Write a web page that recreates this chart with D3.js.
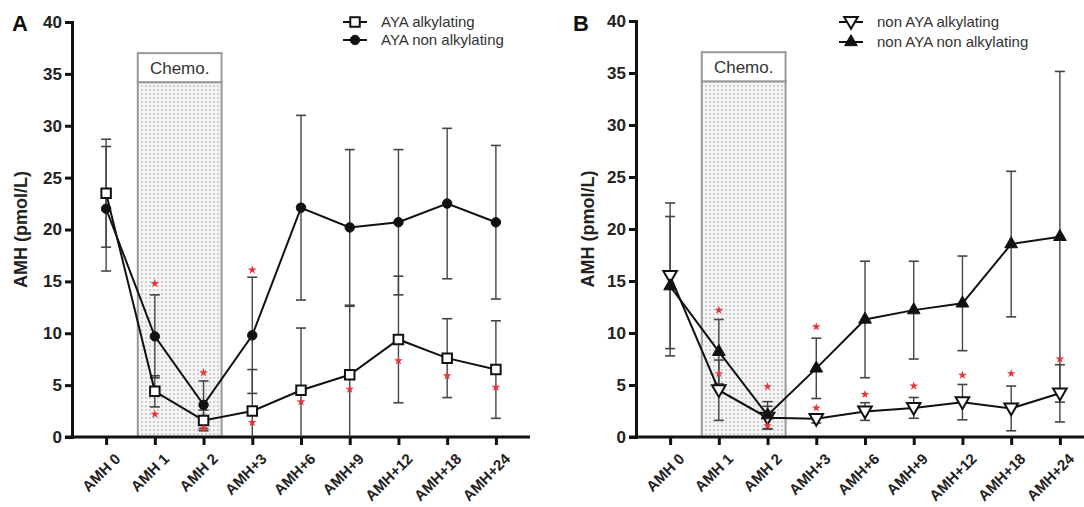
<!DOCTYPE html>
<html lang="en">
<head>
<meta charset="utf-8">
<title>AMH by group</title>
<script src="https://d3js.org/d3.v7.min.js"></script>
<style>
body { margin: 0; background: #fff; }
svg text { font-family: "Liberation Sans", Arial, sans-serif; }
</style>
</head>
<body>
<script>
// categories and ticks
const timepoints = ["AMH 0", "AMH 1", "AMH 2", "AMH+3", "AMH+6", "AMH+9", "AMH+12", "AMH+18", "AMH+24"];
const yTicks = [0, 5, 10, 15, 20, 25, 30, 35, 40];

// panel A
const ayaAlkMean = [23.5, 4.4, 1.6, 2.5, 4.5, 6.0, 9.4, 7.6, 6.5];
const ayaAlkSd   = [5.2, 1.5, 1.0, 4.0, 6.0, 6.6, 6.1, 3.8, 4.7];
const ayaNonMean = [22.0, 9.7, 3.1, 9.8, 22.1, 20.2, 20.7, 22.5, 20.7];
const ayaNonSd   = [6.0, 4.0, 2.3, 5.6, 8.9, 7.5, 7.0, 7.25, 7.4];
const starsA = [[], [14.8, 2.2], [6.2, 0.8], [16.1, 1.4], [3.4], [4.6], [7.35], [5.9], [4.8]];

// panel B
const nonAyaAlkMean = [15.5, 4.5, 1.85, 1.75, 2.45, 2.8, 3.35, 2.75, 4.2];
const nonAyaAlkSd   = [7.0, 2.9, 1.1, 0.4, 0.85, 1.0, 1.7, 2.15, 2.75];
const nonAyaNonMean = [14.5, 8.2, 2.1, 6.6, 11.3, 12.2, 12.85, 18.55, 19.25];
const nonAyaNonSd   = [6.7, 3.1, 1.3, 2.9, 5.6, 4.7, 4.55, 7.0, 15.9];
const starsB = [[], [12.2, 6.1], [4.85, 1.1], [10.6, 2.8], [4.1], [4.9], [5.95], [6.1], [7.5]];

const svg = d3.select("body").append("svg")
  .attr("width", 1084)
  .attr("height", 507);

// dotted fill for chemo box
const defs = svg.append("defs");
const pat = defs.append("pattern")
  .attr("id", "dots")
  .attr("patternUnits", "userSpaceOnUse")
  .attr("width", 4).attr("height", 4);
pat.append("rect").attr("width", 4).attr("height", 4).attr("fill", "#f5f5f5");
pat.append("circle").attr("cx", 2).attr("cy", 2).attr("r", 0.65).attr("fill", "#8a8a8a");

function markerPath(kind) {
  if (kind == "square") return d3.symbol(d3.symbolSquare, 90)();
  if (kind == "circle") return d3.symbol(d3.symbolCircle, 70)();
  if (kind == "triUp") return d3.symbol(d3.symbolTriangle, 70)();
  return d3.symbol(d3.symbolTriangle, 80)();
}

function drawMarker(g, kind, x, y) {
  const p = g.append("path")
    .attr("d", markerPath(kind))
    .attr("stroke", "#111")
    .attr("stroke-width", kind == "circle" || kind == "triUp" ? 1 : 2);
  if (kind == "triDown") {
    p.attr("transform", "translate(" + x + "," + (y - 1) + ") rotate(180)").attr("fill", "#fff");
  } else {
    p.attr("transform", "translate(" + x + "," + y + ")")
     .attr("fill", kind == "square" ? "#fff" : "#111");
  }
}

function drawPanel(opt) {
  const g = svg.append("g");

  const x = d3.scalePoint()
    .domain(timepoints)
    .range([opt.left, opt.left + 458])
    .padding(0.7);
  const y = d3.scaleLinear()
    .domain([0, 40])
    .range([437, opt.top]);
  const step = x.step();

  // chemo box
  const bx0 = x("AMH 1") - 0.35 * step;
  const bx1 = x("AMH 2") + 0.37 * step;
  g.append("rect")
    .attr("x", bx0).attr("y", y(34.2))
    .attr("width", bx1 - bx0).attr("height", y(0) - y(34.2))
    .attr("fill", "url(#dots)")
    .attr("stroke", "#999").attr("stroke-width", 2);
  g.append("rect")
    .attr("x", bx0).attr("y", y(37))
    .attr("width", bx1 - bx0).attr("height", y(34.2) - y(37))
    .attr("fill", "#fff")
    .attr("stroke", "#999").attr("stroke-width", 2);
  g.append("text")
    .attr("x", (bx0 + bx1) / 2).attr("y", (y(37) + y(34.2)) / 2 + 6)
    .attr("text-anchor", "middle")
    .attr("font-size", 17).attr("fill", "#333")
    .text("Chemo.");

  // axes
  const yAxis = g.append("g")
    .attr("transform", "translate(" + opt.left + ",0)")
    .call(d3.axisLeft(y).tickValues(yTicks).tickSize(7).tickPadding(3));
  const xAxis = g.append("g")
    .attr("transform", "translate(0," + y(0) + ")")
    .call(d3.axisBottom(x).tickSize(8).tickSizeOuter(0));
  [yAxis, xAxis].forEach(a => {
    a.select(".domain").attr("stroke", "#111").attr("stroke-width", 3);
    a.selectAll(".tick line").attr("stroke", "#111").attr("stroke-width", 3);
    a.selectAll("text").attr("font-weight", "bold").attr("fill", "#222");
  });
  yAxis.selectAll("text").attr("font-size", 17);
  xAxis.select(".domain").attr("d", "M" + (opt.left - 7) + ",0H" + (opt.left + 458));
  xAxis.selectAll(".tick text")
    .attr("font-size", 15)
    .attr("text-anchor", "end")
    .attr("dx", 0).attr("dy", 0)
    .attr("transform", "translate(7,15) rotate(-45)");

  g.append("text")
    .attr("transform", "translate(" + opt.ylabX + "," + y(20) + ") rotate(-90)")
    .attr("text-anchor", "middle")
    .attr("font-size", 18).attr("font-weight", "bold").attr("fill", "#222")
    .text("AMH (pmol/L)");

  g.append("text")
    .attr("x", opt.letterX).attr("y", 31)
    .attr("font-size", 22).attr("font-weight", "bold").attr("fill", "#111")
    .text(opt.letter);

  // error bars then lines then markers
  opt.series.forEach(s => {
    s.mean.forEach((m, i) => {
      const cx = x(timepoints[i]);
      const lo = Math.max(0, m - s.sd[i]);
      const hi = m + s.sd[i];
      g.append("line")
        .attr("x1", cx).attr("x2", cx)
        .attr("y1", y(lo)).attr("y2", y(hi))
        .attr("stroke", "#444").attr("stroke-width", 1.4);
      g.append("line")
        .attr("x1", cx - 5).attr("x2", cx + 5)
        .attr("y1", y(hi)).attr("y2", y(hi))
        .attr("stroke", "#444").attr("stroke-width", 1.6);
      if (m - s.sd[i] > 0) {
        g.append("line")
          .attr("x1", cx - 5).attr("x2", cx + 5)
          .attr("y1", y(lo)).attr("y2", y(lo))
          .attr("stroke", "#444").attr("stroke-width", 1.6);
      }
    });
  });

  const line = d3.line()
    .x((d, i) => x(timepoints[i]))
    .y(d => y(d));
  opt.series.forEach(s => {
    g.append("path")
      .datum(s.mean)
      .attr("d", line)
      .attr("fill", "none")
      .attr("stroke", "#111")
      .attr("stroke-width", 2);
  });
  opt.series.forEach(s => {
    s.mean.forEach((m, i) => drawMarker(g, s.kind, x(timepoints[i]), y(m)));
  });

  // significance stars
  opt.stars.forEach((arr, i) => {
    arr.forEach(v => {
      g.append("path")
        .attr("d", d3.symbol(d3.symbolStar, 24)())
        .attr("transform", "translate(" + x(timepoints[i]) + "," + y(v) + ")")
        .attr("fill", "#e8333a");
    });
  });

  // legend
  opt.series.forEach((s, k) => {
    const ly = 22 + k * opt.legGap;
    g.append("line")
      .attr("x1", opt.legX).attr("x2", opt.legX + 24)
      .attr("y1", ly).attr("y2", ly)
      .attr("stroke", "#111").attr("stroke-width", 2);
    drawMarker(g, s.kind, opt.legX + 12, ly);
    g.append("text")
      .attr("x", opt.legX + 38).attr("y", ly + 5)
      .attr("font-size", 15).attr("fill", "#333")
      .text(s.name);
  });
}

drawPanel({
  left: 72, top: 22, ylabX: 27, letter: "A", letterX: 12, legX: 343, legGap: 18,
  series: [
    {name: "AYA alkylating", mean: ayaAlkMean, sd: ayaAlkSd, kind: "square"},
    {name: "AYA non alkylating", mean: ayaNonMean, sd: ayaNonSd, kind: "circle"}
  ],
  stars: starsA
});

drawPanel({
  left: 636, top: 21, ylabX: 594, letter: "B", letterX: 573, legX: 839, legGap: 20,
  series: [
    {name: "non AYA alkylating", mean: nonAyaAlkMean, sd: nonAyaAlkSd, kind: "triDown"},
    {name: "non AYA non alkylating", mean: nonAyaNonMean, sd: nonAyaNonSd, kind: "triUp"}
  ],
  stars: starsB
});
</script>
</body>
</html>
